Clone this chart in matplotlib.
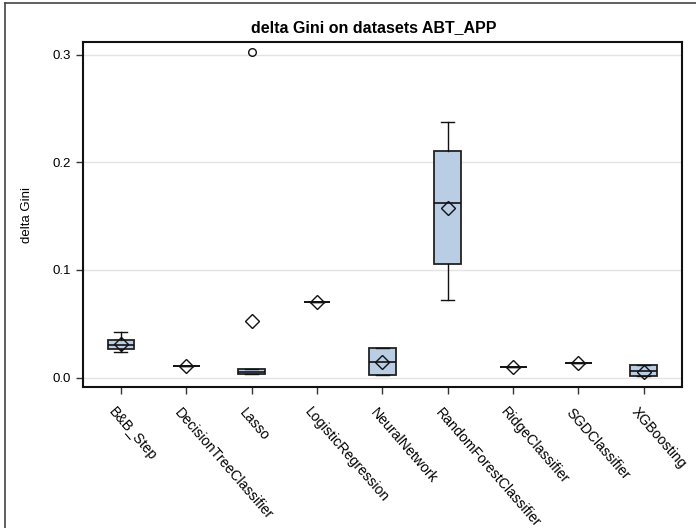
import matplotlib
matplotlib.use("Agg")
import matplotlib.pyplot as plt
from matplotlib.lines import Line2D
from matplotlib.transforms import ScaledTranslation

plt.rcParams['font.family'] = ['Liberation Sans', 'DejaVu Sans']

models = ['B&B_Step', 'DecisionTreeClassifier', 'Lasso', 'LogisticRegression',
          'NeuralNetwork', 'RandomForestClassifier', 'RidgeClassifier',
          'SGDClassifier', 'XGBoosting']
q1 = [0.027, 0.0109, 0.0035, 0.0706, 0.0025, 0.1053, 0.0102, 0.0139, 0.0015]
med = [0.030, 0.0109, 0.0055, 0.0706, 0.0149, 0.1625, 0.0102, 0.0139, 0.0062]
q3 = [0.035, 0.0109, 0.0077, 0.0706, 0.0273, 0.2108, 0.0102, 0.0139, 0.0118]
whislo = [0.0235, 0.0109, 0.0035, 0.0706, 0.0025, 0.0721, 0.0102, 0.0139, 0.0015]
whishi = [0.042, 0.0109, 0.0077, 0.0706, 0.0273, 0.2373, 0.0102, 0.0139, 0.0118]
means = [0.031, 0.0109, 0.053, 0.0706, 0.0149, 0.1573, 0.0102, 0.0139, 0.0052]
outliers = [[], [], [0.3027], [], [], [], [], [], []]

stats = []
for i, name in enumerate(models):
    stats.append(dict(label=name, q1=q1[i], med=med[i], q3=q3[i],
                      whislo=whislo[i], whishi=whishi[i], mean=means[i],
                      fliers=outliers[i]))

fig = plt.figure(figsize=(6.96, 5.28), dpi=100)
ax = fig.add_axes([0.1193, 0.2665, 0.8602, 0.654])

ax.bxp(stats, positions=range(len(models)), widths=0.41, patch_artist=True,
       showmeans=True,
       boxprops=dict(facecolor='#b9cde5', edgecolor='#222222', linewidth=1.3),
       medianprops=dict(color='#111111', linewidth=1.2),
       whiskerprops=dict(color='#111111', linewidth=1.0),
       capprops=dict(color='#111111', linewidth=1.0),
       capwidths=0.2,
       meanprops=dict(marker='D', markerfacecolor='none', markeredgecolor='#111111',
                      markersize=7, markeredgewidth=1.0),
       flierprops=dict(marker='o', markerfacecolor='none', markeredgecolor='#111111',
                       markersize=5.5, markeredgewidth=1.0))

ax.set_xlim(-0.58, 8.58)
ax.set_ylim(-0.0089, 0.3117)
ax.set_yticks([0.0, 0.1, 0.2, 0.3])
ax.set_yticklabels(['0.0', '0.1', '0.2', '0.3'])
ax.yaxis.grid(True, color='#e3e3e3', linewidth=1.0)
ax.set_axisbelow(True)

# category labels slanted down to the right, hanging below each tick
ax.set_xticks(range(len(models)))
ax.set_xticklabels([])
lbl_trans = ax.get_xaxis_transform() + ScaledTranslation(-4.5 / 100, -18 / 100,
                                                         fig.dpi_scale_trans)
for i, name in enumerate(models):
    ax.text(i, 0, name, transform=lbl_trans, rotation=-49, ha='left', va='top',
            rotation_mode='anchor', fontsize=10.2, clip_on=False)

ax.tick_params(axis='both', length=5, width=1.0, color='#333333')
ax.tick_params(axis='y', labelsize=9.5)
for s in ax.spines.values():
    s.set_linewidth(1.5)
    s.set_color('#111111')

ax.set_ylabel('delta Gini', fontsize=9.5, labelpad=14)
ax.set_title('delta Gini on datasets ABT_APP', fontsize=11.5, fontweight='bold',
             x=0.485, pad=7)

# frame around the graph area
fig.add_artist(Line2D([0.007, 0.007], [0, 0.995], transform=fig.transFigure,
                      color='#444444', linewidth=1.2))
fig.add_artist(Line2D([0.007, 1.0], [0.995, 0.995], transform=fig.transFigure,
                      color='#444444', linewidth=1.2))

fig.savefig('out.png', dpi=100)
